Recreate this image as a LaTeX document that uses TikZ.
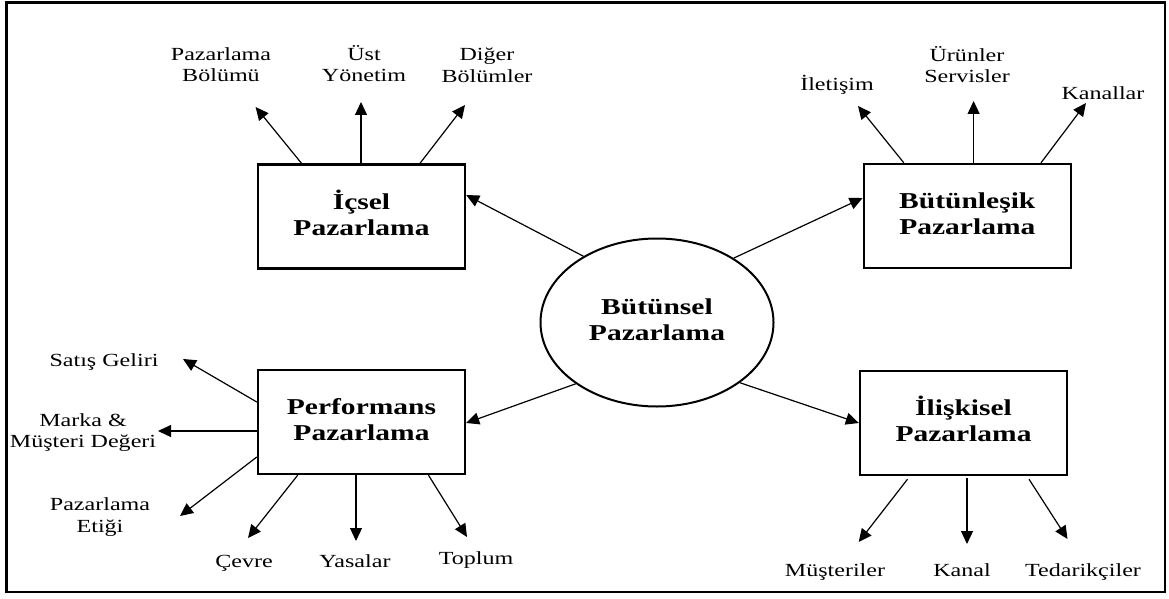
\documentclass[tikz,border=0pt]{standalone}
\usepackage{fontspec}
\usepackage{graphicx}
\setmainfont{Liberation Serif}
\usetikzlibrary{arrows.meta,shapes.geometric,calc}
\newcommand{\stretchtxt}[1]{\scalebox{1.3}[1]{\begin{tabular}{@{}c@{}}#1\end{tabular}}}
\begin{document}
\begin{tikzpicture}[x=1pt,y=-1pt,
  lbl/.style={inner sep=0pt, font=\fontsize{18.5}{21.5}\selectfont},
  boxnode/.style={draw, line width=2.4pt, minimum width=207pt, minimum height=104pt, inner sep=0pt, font=\bfseries\fontsize{22.7}{26}\selectfont},
  arr/.style={-{Triangle[length=13pt,width=12pt]}, line width=1.2pt}]
\useasboundingbox (0,0) rectangle (1169,599);
\draw[line width=2.5pt] (6.5,2.5) rectangle (1165,592);

% central ellipse
\node[draw, ellipse, line width=2pt, minimum width=233pt, minimum height=168pt, inner sep=0pt,
  font=\bfseries\fontsize{22.7}{26}\selectfont] (bp) at (657,322.5) {\stretchtxt{Bütünsel\\Pazarlama}};

% boxes
\node[boxnode] (icsel) at (361.5,216.5) {\stretchtxt{İçsel\\Pazarlama}};
\node[boxnode] (butun) at (967.3,216) {\stretchtxt{Bütünleşik\\Pazarlama}};
\node[boxnode] (perf) at (361.5,422) {\stretchtxt{Performans\\Pazarlama}};
\node[boxnode] (iliski) at (963.5,423) {\stretchtxt{İlişkisel\\Pazarlama}};

% labels
\node[lbl] (lpb) at (221,66.5) {\stretchtxt{Pazarlama\\Bölümü}};
\node[lbl] (lust) at (364,66.5) {\stretchtxt{Üst\\Yönetim}};
\node[lbl] (ldiger) at (487,67) {\stretchtxt{Diğer\\Bölümler}};
\node[lbl] (liletisim) at (837,86) {\stretchtxt{İletişim}};
\node[lbl] (lurun) at (967,67.5) {\stretchtxt{Ürünler\\Servisler}};
\node[lbl] (lkanallar) at (1103,95) {\stretchtxt{Kanallar}};
\node[lbl] (lsatis) at (104,362) {\stretchtxt{Satış Geliri}};
\node[lbl] (lmarka) at (83,432.5) {\stretchtxt{Marka \&\\Müşteri Değeri}};
\node[lbl] (letik) at (100,517) {\stretchtxt{Pazarlama\\Etiği}};
\node[lbl] (lcevre) at (244,563) {\stretchtxt{Çevre}};
\node[lbl] (lyasa) at (355,563) {\stretchtxt{Yasalar}};
\node[lbl] (ltoplum) at (476,560) {\stretchtxt{Toplum}};
\node[lbl] (lmust) at (835,572) {\stretchtxt{Müşteriler}};
\node[lbl] (lkanal) at (962,572) {\stretchtxt{Kanal}};
\node[lbl] (ltedarik) at (1083,572) {\stretchtxt{Tedarikçiler}};

% arrow tips
\coordinate (t1) at (255.6,107);
\coordinate (t2) at (361,102);
\coordinate (t3) at (465,105);
\coordinate (t4) at (858,106);
\coordinate (t5) at (973.6,101);
\coordinate (t6) at (1086,103);
\coordinate (t7) at (183,359);
\coordinate (t8) at (158,431);
\coordinate (t9) at (180,516);
\coordinate (t10) at (248,538);
\coordinate (t11) at (356,541);
\coordinate (t12) at (467,537);
\coordinate (t13) at (858.7,542);
\coordinate (t14) at (967,544);
\coordinate (t15) at (1067.5,539);

% arrows from boxes
\draw[arr] ($(icsel.north)+(-60,0)$) -- (t1);
\draw[arr] ($(icsel.north)+(-0.5,0)$) -- (t2);
\draw[arr] ($(icsel.north)+(58.5,0)$) -- (t3);
\draw[arr] ($(butun.north)+(-63.5,0)$) -- (t4);
\draw[arr] ($(butun.north)+(6.3,0)$) -- (t5);
\draw[arr] ($(butun.north)+(73.7,0)$) -- (t6);
\draw[arr] ($(perf.west)+(0,-20)$) -- (t7);
\draw[arr] ($(perf.west)+(0,9)$) -- (t8);
\draw[arr] ($(perf.west)+(0,35)$) -- (t9);
\draw[arr] ($(perf.south)+(-63.8,0)$) -- (t10);
\draw[arr] ($(perf.south)+(-5.5,0)$) -- (t11);
\draw[arr] ($(perf.south)+(67,0)$) -- (t12);
\draw[arr] ($(iliski.south)+(-56,3)$) -- (t13);
\draw[arr] ($(iliski.south)+(3.5,2)$) -- (t14);
\draw[arr] ($(iliski.south)+(65.5,3)$) -- (t15);

% arrows from the ellipse
\draw[arr] (bp.138) -- ($(icsel.east)+(0,-21.5)$);
\draw[arr] (bp.40) -- ($(butun.west)+(0,-18)$);
\draw[arr] (bp.217) -- ($(perf.east)+(0,1)$);
\draw[arr] (bp.324) -- (iliski.west);
\end{tikzpicture}
\end{document}
